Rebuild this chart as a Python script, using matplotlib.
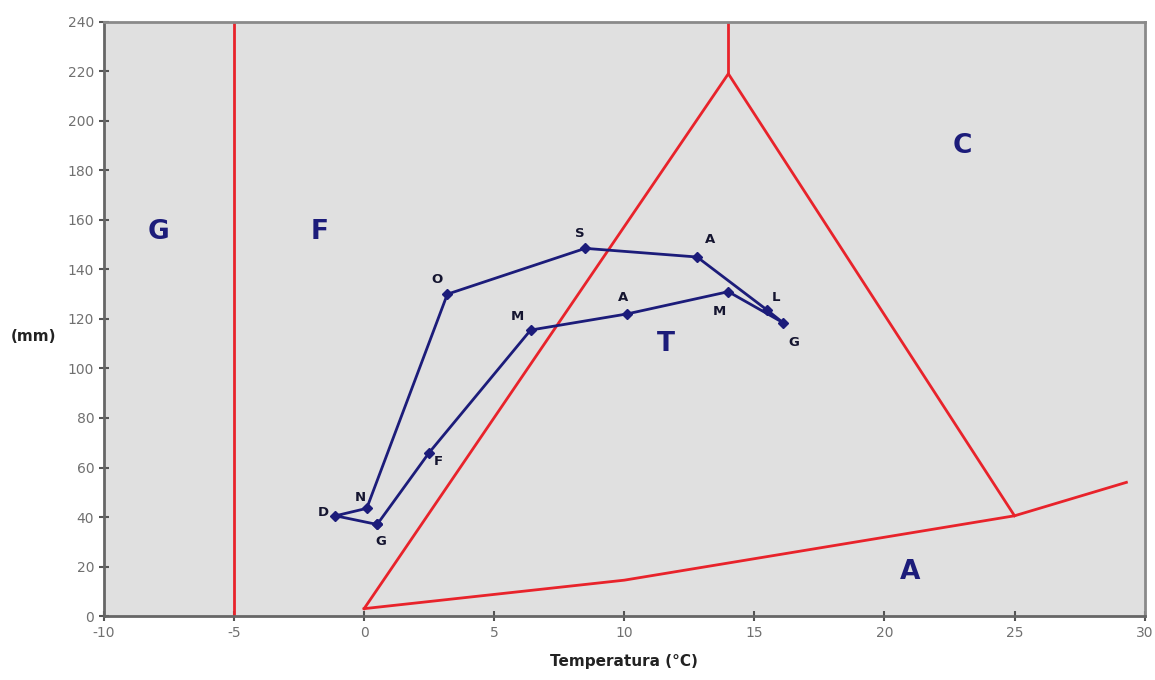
import matplotlib
matplotlib.use("Agg")
import matplotlib.pyplot as plt

plt.rcParams["axes.unicode_minus"] = False

# Monthly climate path (temperature °C, precipitation mm)
months = ["G", "F", "M", "A", "M", "G", "L", "A", "S", "O", "N", "D"]
temp = [0.5, 2.5, 6.4, 10.1, 14.0, 16.1, 15.5, 12.8, 8.5, 3.2, 0.1, -1.1]
prec = [37, 66, 115.5, 122, 131, 118.5, 123.5, 145, 148.5, 130, 43.5, 40.5]

# label offsets per month (data units)
lab_dx = [0.15, 0.35, -0.5, -0.15, -0.35, 0.4, 0.35, 0.5, -0.2, -0.4, -0.25, -0.45]
lab_dy = [-7, -3.5, 5.5, 6.5, -8, -8, 5, 7, 6, 6, 4.5, 1.5]

# Climate zone boundaries
border_g_x = [-5, -5]
border_g_y = [0, 240]
tri_x = [0, 14, 25]
tri_y = [3, 219, 40.5]
apex_x = [14, 14]
apex_y = [219, 240]
base_x = [0, 10, 25, 29.3]
base_y = [3, 14.5, 40.5, 54]

zones = ["G", "F", "C", "T", "A"]
zone_x = [-7.9, -1.7, 23.0, 11.6, 21.0]
zone_y = [155, 155, 190, 110, 18]

xticks = list(range(-10, 31, 5))
yticks = list(range(0, 241, 20))

fig = plt.figure(figsize=(11.55, 6.8), dpi=100)
ax = fig.add_axes([0.090, 0.094, 0.901, 0.874])
ax.set_facecolor("#e0e0e0")

red = "#e8232b"
ax.plot(border_g_x, border_g_y, color=red, lw=2)
ax.plot(tri_x, tri_y, color=red, lw=2)
ax.plot(apex_x, apex_y, color=red, lw=2)
ax.plot(base_x, base_y, color=red, lw=2)

navy = "#1c1c7a"
px = temp + [temp[0]]
py = prec + [prec[0]]
ax.plot(px, py, color=navy, lw=2, marker="D", markersize=5, zorder=5)

for m, x, y, dx, dy in zip(months, temp, prec, lab_dx, lab_dy):
    ax.text(x + dx, y + dy, m, fontsize=9.5, fontweight="bold", color="#151530",
            ha="center", va="center", zorder=6)

for z, x, y in zip(zones, zone_x, zone_y):
    ax.text(x, y, z, fontsize=19, fontweight="bold", color=navy,
            ha="center", va="center")

ax.set_xlim(-10, 30)
ax.set_ylim(0, 240)
ax.set_xticks(xticks)
ax.set_yticks(yticks)
ax.tick_params(direction="inout", length=7, width=1.5, color="#555555",
               labelsize=10, labelcolor="#707070")
for s in ax.spines.values():
    s.set_color("#666666")
    s.set_linewidth(2)
ax.spines["top"].set_color("#8a8a8a")
ax.spines["right"].set_color("#8a8a8a")

ax.set_xlabel("Temperatura (°C)", fontsize=11, fontweight="bold", color="#222222", labelpad=10)
fig.text(0.029, 0.505, "(mm)", fontsize=11, fontweight="bold", color="#222222",
         ha="center", va="center")

fig.savefig("out.png", dpi=100, facecolor="white")
